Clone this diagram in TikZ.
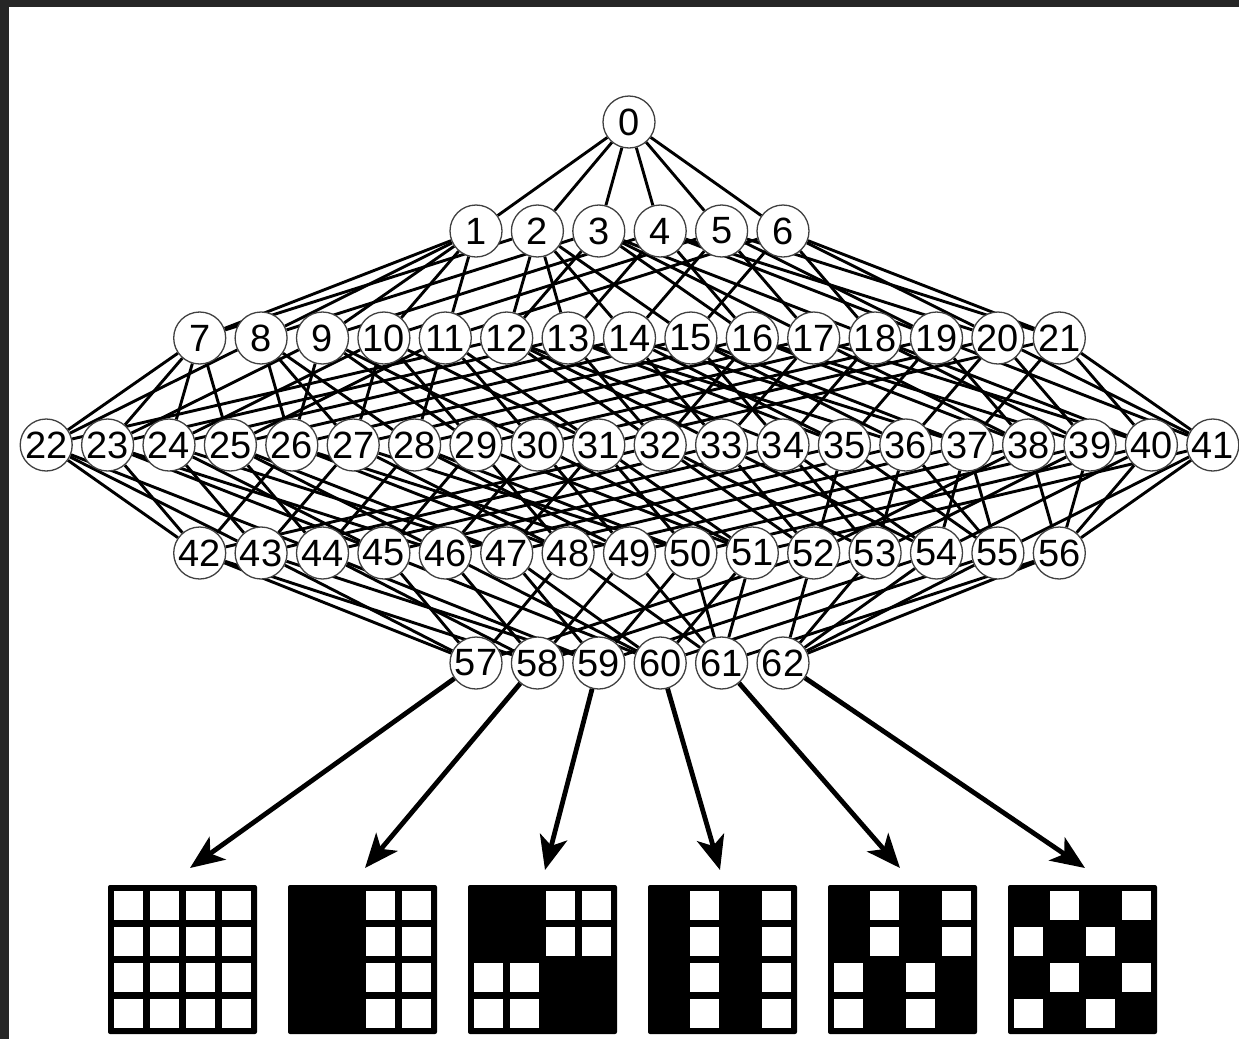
\documentclass[tikz,border=0pt]{standalone}
\usepackage{fontspec}
\setmainfont{Liberation Sans}
\usetikzlibrary{arrows.meta,backgrounds,calc}
\newcommand\gcells[2]{\foreach \c/\r in {#2} \fill[white] ($(#1.north west)+(6+\c*36,6+\r*36)$) rectangle +(29,29);}
\begin{document}
\begin{tikzpicture}[x=1pt,y=-1pt,
  nd/.style={circle,draw=black!75,line width=1.3pt,fill=white,minimum size=52pt,inner sep=0pt,font=\fontsize{38}{42}\selectfont},
  edge/.style={line width=2.9pt},
  arr/.style={line width=4.8pt,-{Stealth[length=34pt,width=28pt,inset=9pt]}},
  gridbox/.style={fill=black,rounded corners=2pt,minimum size=149pt,inner sep=0pt,draw=none}]
\useasboundingbox (0,0) rectangle (1239,1039);
\fill[black!85] (0,0) rectangle (1239,7);
\fill[black!85] (0,0) rectangle (9,1039);
% nodes
\node[nd] (n0) at (629,122) {0};
\foreach \i in {1,...,6} \node[nd] (n\i) at ({629.5+(\i-3.5)*61.4},231) {\i};
\foreach \i in {7,...,21} \node[nd] (n\i) at ({629.5+(\i-14)*61.4},338) {\i};
\foreach \i in {22,...,41} \node[nd] (n\i) at ({629.5+(\i-31.5)*61.4},445) {\i};
\foreach \i in {42,...,56} \node[nd] (n\i) at ({629.5+(\i-49)*61.4},553) {\i};
\foreach \i in {57,...,62} \node[nd] (n\i) at ({629.5+(\i-59.5)*61.4},663) {\i};
% edges
\begin{scope}[on background layer]
\foreach \a/\b in {0/1,0/2,0/3,0/4,0/5,0/6,
 1/7,1/8,1/9,1/10,1/11, 2/7,2/12,2/13,2/14,2/15, 3/8,3/12,3/16,3/17,3/18,
 4/9,4/13,4/16,4/19,4/20, 5/10,5/14,5/17,5/19,5/21, 6/11,6/15,6/18,6/20,6/21,
 7/22,7/23,7/24,7/25, 8/22,8/26,8/27,8/28, 9/23,9/26,9/29,9/30, 10/24,10/27,10/29,10/31,
 11/25,11/28,11/30,11/31, 12/22,12/32,12/33,12/34, 13/23,13/32,13/35,13/36,
 14/24,14/33,14/35,14/37, 15/25,15/34,15/36,15/37, 16/26,16/32,16/38,16/39,
 17/27,17/33,17/38,17/40, 18/28,18/34,18/39,18/40, 19/29,19/35,19/38,19/41,
 20/30,20/36,20/39,20/41, 21/31,21/37,21/40,21/41,
 22/42,22/43,22/44, 23/42,23/45,23/46, 24/43,24/45,24/47, 25/44,25/46,25/47,
 26/42,26/48,26/49, 27/43,27/48,27/50, 28/44,28/49,28/50, 29/45,29/48,29/51,
 30/46,30/49,30/51, 31/47,31/50,31/51, 32/42,32/52,32/53, 33/43,33/52,33/54,
 34/44,34/53,34/54, 35/45,35/52,35/55, 36/46,36/53,36/55, 37/47,37/54,37/55,
 38/48,38/52,38/56, 39/49,39/53,39/56, 40/50,40/54,40/56, 41/51,41/55,41/56,
 42/57,42/58, 43/57,43/59, 44/58,44/59, 45/57,45/60, 46/58,46/60, 47/59,47/60,
 48/57,48/61, 49/58,49/61, 50/59,50/61, 51/60,51/61, 52/57,52/62, 53/58,53/62,
 54/59,54/62, 55/60,55/62, 56/61,56/62}
 \draw[edge] (n\a) -- (n\b);
\end{scope}
% grids
\foreach \k in {1,...,6} \node[gridbox] (g\k) at ({182.5+(\k-1)*180},959.5) {};
\gcells{g1}{0/0,1/0,2/0,3/0,0/1,1/1,2/1,3/1,0/2,1/2,2/2,3/2,0/3,1/3,2/3,3/3}
\gcells{g2}{2/0,3/0,2/1,3/1,2/2,3/2,2/3,3/3}
\gcells{g3}{2/0,3/0,2/1,3/1,0/2,1/2,0/3,1/3}
\gcells{g4}{1/0,3/0,1/1,3/1,1/2,3/2,1/3,3/3}
\gcells{g5}{1/0,3/0,1/1,3/1,0/2,2/2,0/3,2/3}
\gcells{g6}{1/0,3/0,0/1,2/1,1/2,3/2,0/3,2/3}
% arrows
\coordinate (t1) at (190,868);
\coordinate (t2) at (365,868);
\coordinate (t3) at (545,870);
\coordinate (t4) at (720,870);
\coordinate (t5) at (900,868);
\coordinate (t6) at (1085,868);
\draw[arr] (n57) -- (t1);
\draw[arr] (n58) -- (t2);
\draw[arr] (n59) -- (t3);
\draw[arr] (n60) -- (t4);
\draw[arr] (n61) -- (t5);
\draw[arr] (n62) -- (t6);
\end{tikzpicture}
\end{document}
